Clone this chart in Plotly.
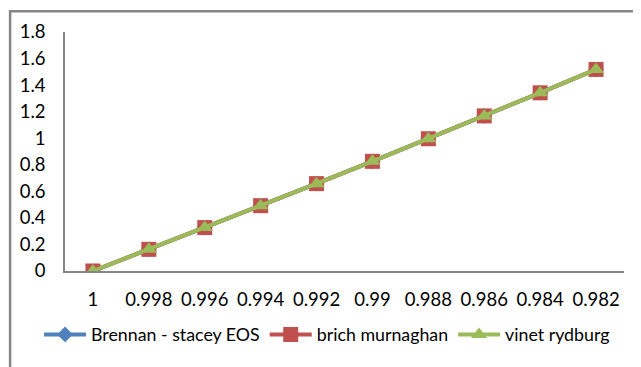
import plotly.graph_objects as go

categories = ["1", "0.998", "0.996", "0.994", "0.992", "0.99", "0.988", "0.986", "0.984", "0.982"]
brennan = [0, 0.163, 0.327, 0.492, 0.658, 0.826, 0.996, 1.168, 1.342, 1.518]
birch = [0, 0.163, 0.327, 0.492, 0.658, 0.826, 0.996, 1.168, 1.342, 1.518]
vinet = [0, 0.163, 0.327, 0.492, 0.658, 0.826, 0.996, 1.168, 1.342, 1.518]
y_ticks = [0, 0.2, 0.4, 0.6, 0.8, 1.0, 1.2, 1.4, 1.6, 1.8]
y_labels = ["0", "0.2", "0.4", "0.6", "0.8", "1", "1.2", "1.4", "1.6", "1.8"]

FONT = "Lato"
FS = 18.5
fig = go.Figure()
fig.add_trace(go.Scatter(x=categories, y=brennan, name="Brennan - stacey EOS", mode="lines+markers",
                         line=dict(color="#4F81BD", width=4),
                         marker=dict(symbol="diamond", size=12, color="#4F81BD")))
fig.add_trace(go.Scatter(x=categories, y=birch, name="brich murnaghan", mode="lines+markers",
                         line=dict(color="#C0504D", width=4),
                         marker=dict(symbol="square", size=15, color="#C0504D")))
fig.add_trace(go.Scatter(x=categories, y=vinet, name="vinet rydburg", mode="lines+markers",
                         line=dict(color="#9BBB59", width=4),
                         marker=dict(symbol="triangle-up", size=14, color="#9BBB59")))

# page body has an 8px margin: figure origin sits at screen (8, 8)
OFF = 8
FW, FH = 641 - OFF, 367 - OFF
L, R, T, B = 64 - OFF, 624 - OFF, 30 - OFF, 271 - OFF
W, H = R - L, B - T
def px(x):
    return (x - OFF - L) / W
def py(y):
    return (B - (y - OFF)) / H

fig.update_layout(
    width=FW, height=FH,
    margin=dict(l=L, r=FW - R, t=T, b=FH - B),
    paper_bgcolor="white", plot_bgcolor="white",
    font=dict(family=FONT, size=FS, color="#000000"),
    showlegend=True,
    legend=dict(orientation="h", x=px(38), y=py(354), xanchor="left", yanchor="bottom",
                font=dict(size=17.8), itemwidth=42, tracegroupgap=0, bgcolor="rgba(0,0,0,0)"),
    xaxis=dict(type="category", showgrid=False, zeroline=False, showline=True,
               linecolor="#868686", linewidth=1.5, ticks="", range=[-0.5, 9.5],
               tickfont=dict(size=FS), ticklabelstandoff=11),
    yaxis=dict(range=[0, 1.8], tickvals=y_ticks, ticktext=y_labels, showgrid=False,
               zeroline=False, showline=True, linecolor="#868686", linewidth=1.5, ticks="",
               tickfont=dict(size=FS), ticklabelstandoff=14),
    shapes=[
        dict(type="line", xref="paper", yref="paper", x0=px(8), x1=px(700), y0=py(9), y1=py(9),
             line=dict(color="#868686", width=2.5)),
        dict(type="line", xref="paper", yref="paper", x0=px(9), x1=px(9), y0=py(8), y1=py(420),
             line=dict(color="#868686", width=2.5)),
    ],
)
fig.write_html("out.html")
